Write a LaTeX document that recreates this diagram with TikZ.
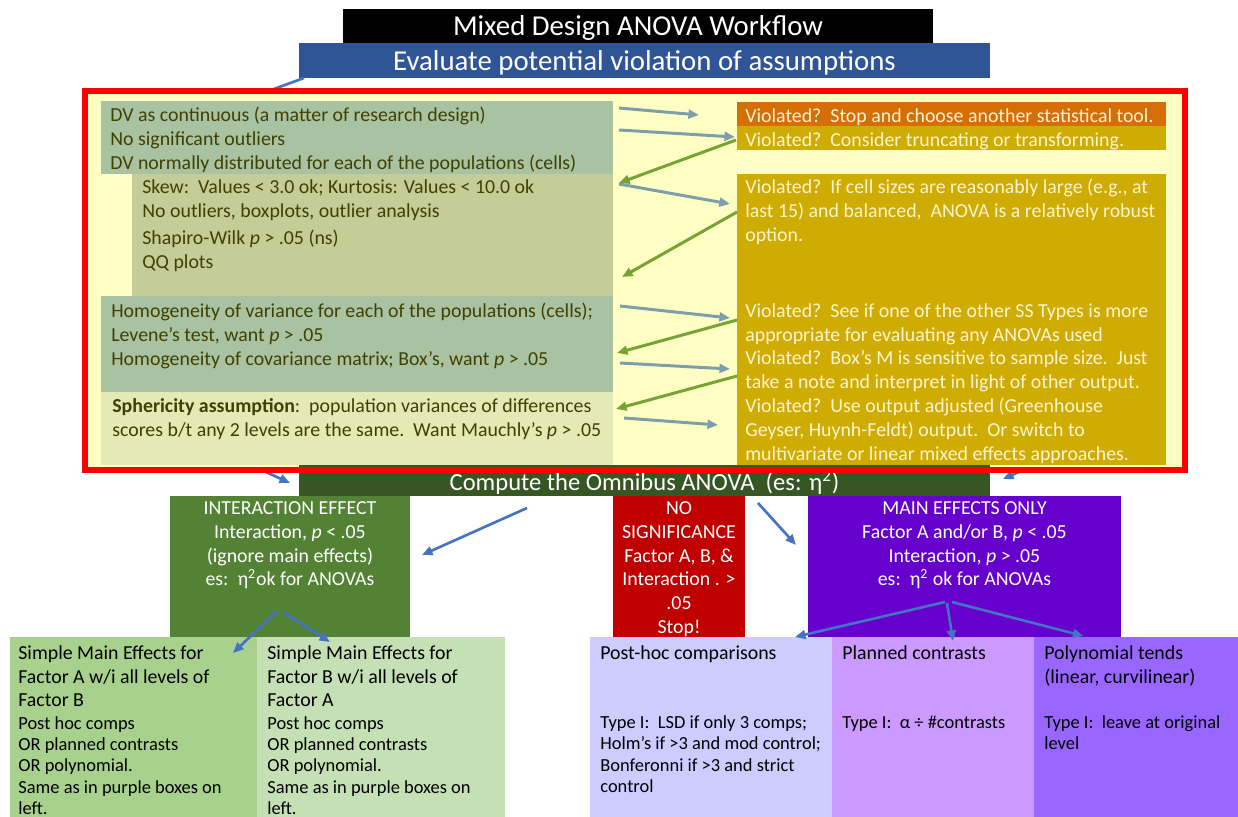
\documentclass[tikz,border=0pt]{standalone}
\usepackage{fontspec}
\setmainfont{Carlito}
\usetikzlibrary{arrows.meta,positioning}
\usepackage{xcolor}
\definecolor{sagebox}{RGB}{169,195,162}
\definecolor{olivebox}{RGB}{196,204,152}
\definecolor{palebox}{RGB}{228,233,182}
\definecolor{frameyellow}{RGB}{255,255,196}
\definecolor{oliveink}{RGB}{64,64,0}
\definecolor{creamink}{RGB}{255,244,206}
\definecolor{violorange}{RGB}{214,110,6}
\definecolor{violmustard}{RGB}{206,172,2}
\definecolor{evalblue}{RGB}{47,85,151}
\definecolor{omnigreen}{RGB}{56,86,35}
\definecolor{intgreen}{RGB}{84,130,53}
\definecolor{stopred}{RGB}{192,0,0}
\definecolor{mainpurple}{RGB}{102,0,204}
\definecolor{smegreen}{RGB}{169,209,142}
\definecolor{smelight}{RGB}{197,224,180}
\definecolor{posthoc}{RGB}{204,204,255}
\definecolor{planned}{RGB}{204,153,255}
\definecolor{polyn}{RGB}{153,102,255}
\definecolor{steel}{RGB}{125,158,170}
\definecolor{leafgreen}{RGB}{118,164,52}
\definecolor{arrowblue}{RGB}{68,114,196}
\newlength{\pxu}\setlength{\pxu}{0.02cm}
\newcommand{\bodyfont}{\fontsize{11.3}{13.6}\selectfont}
\newcommand{\lowfont}{\fontsize{10.5}{12}\selectfont}
\newcommand{\hd}{\fontsize{11.3}{12}\selectfont}
\tikzset{
  cell/.style={rectangle, inner sep=0pt, outer sep=0pt, anchor=north west},
  head/.style={rectangle, inner sep=0pt, outer sep=0pt, text=white, text depth=0pt},
  txt/.style={anchor=north west, inner sep=0pt, align=left, font=\bodyfont, execute at begin node=\strut},
  ctxt/.style={anchor=north, inner sep=0pt, align=center, font=\bodyfont, text=white, execute at begin node=\strut},
  lowtxt/.style={txt, font=\lowfont},
  steelarrow/.style={-{Triangle[length=6pt,width=5pt]}, line width=1.7pt, steel},
  greenarrow/.style={-{Triangle[length=6pt,width=5pt]}, line width=1.7pt, leafgreen},
  bluearrow/.style={-{Triangle[length=6pt,width=5pt]}, line width=1.5pt, arrowblue},
}

\begin{document}
\begin{tikzpicture}[x=0.02cm, y=-0.02cm]
\fill[white] (0,0) rectangle (1238,817);
\useasboundingbox (0,0) rectangle (1238,817);

% headings
\node[head, fill=black, minimum width=590*\pxu, minimum height=34*\pxu, font=\fontsize{16.4}{19}\selectfont] (title) at (638,26) {Mixed Design ANOVA Workflow};
\node[head, fill=evalblue, minimum width=691*\pxu, minimum height=35*\pxu, font=\fontsize{16.4}{19}\selectfont] (eval) at (644.5,60.5) {Evaluate potential violation of assumptions};

\node[cell, fill=frameyellow, minimum width=1100*\pxu, minimum height=379*\pxu] (frame) at (85,91) {};
\draw[bluearrow] ([shift={(5,0)}]eval.south west) -- ([shift={(167,6)}]frame.north west);
\fill[frameyellow] (frame.north west) rectangle (frame.south east);

% assumptions (left)
\node[cell, fill=sagebox, minimum width=512*\pxu, minimum height=73*\pxu] (L1) at (101,101) {};
\node[cell, fill=olivebox, minimum width=481*\pxu, minimum height=122*\pxu] (L2) at (132,174) {};
\node[cell, fill=sagebox, minimum width=512*\pxu, minimum height=96*\pxu] (L3) at (101,296) {};
\node[cell, fill=palebox, minimum width=512*\pxu, minimum height=73*\pxu] (L4) at (101,392) {};

\node[txt, text=oliveink] (L1t) at ([shift={(9,6)}]L1.north west) {DV as continuous (a matter of research design)\\No significant outliers\\DV normally distributed for each of the populations (cells)};
\node[txt, text=oliveink] (L2t) at ([shift={(10,5)}]L2.north west) {Skew:\ \ Values < 3.0 ok; Kurtosis: Values < 10.0 ok\\No outliers, boxplots, outlier analysis\\[2.3pt]Shapiro-Wilk \textit{p} > .05 (ns)\\QQ plots};
\node[txt, text=oliveink] (L3t) at ([shift={(10,7)}]L3.north west) {Homogeneity of variance for each of the populations (cells);\\Levene’s test, want \textit{p} > .05\\Homogeneity of covariance matrix; Box’s, want \textit{p} > .05};
\node[txt, text=oliveink] (L4t) at ([shift={(11,6)}]L4.north west) {\textbf{Sphericity assumption}:\ \ population variances of differences\\scores b/t any 2 levels are the same.\ \ Want Mauchly’s \textit{p} > .05};

% violations (right)
\node[cell, fill=violorange, minimum width=429*\pxu, minimum height=24*\pxu] (R1) at (737,102) {};
\node[cell, fill=violmustard, minimum width=429*\pxu, minimum height=24*\pxu] (R2) at (737,126) {};
\node[cell, fill=violmustard, minimum width=429*\pxu, minimum height=122*\pxu] (R3) at (737,174) {};
\node[cell, fill=violmustard, minimum width=429*\pxu, minimum height=169*\pxu] (R4) at (737,296) {};

\node[txt, text=creamink] (R1t) at ([shift={(8,3)}]R1.north west) {Violated?\ \ Stop and choose another statistical tool.};
\node[txt, text=creamink] (R2t) at ([shift={(8,3)}]R2.north west) {Violated?\ \ Consider truncating or transforming.};
\node[txt, text=creamink] (R3t) at ([shift={(8,5)}]R3.north west) {Violated?\ \ If cell sizes are reasonably large (e.g., at\\last 15) and balanced,\ \ ANOVA is a relatively robust\\option.};
\node[txt, text=creamink] (R4t) at ([shift={(8,7)}]R4.north west) {Violated?\ \ See if one of the other SS Types is more\\appropriate for evaluating any ANOVAs used\\Violated?\ \ Box’s M is sensitive to sample size.\ \ Just\\take a note and interpret in light of other output.\\Violated?\ \ Use output adjusted (Greenhouse\\Geyser, Huynh-Feldt) output.\ \ Or switch to\\multivariate or linear mixed effects approaches.};

\draw[steelarrow] ([shift={(6,7)}]L1.north east) -- ([shift={(-38,13)}]R1.north west);
\draw[steelarrow] ([shift={(6,29)}]L1.north east) -- ([shift={(-2,11)}]R2.north west);
\draw[greenarrow] ([shift={(-1,14)}]R2.north west) -- ([shift={(6,9)}]L2.north east);
\draw[steelarrow] ([shift={(6,10)}]L2.north east) -- ([shift={(-7,30)}]R3.north west);
\draw[greenarrow] ([shift={(0,38)}]R3.north west) -- ([shift={(9,103)}]L2.north east);
\draw[steelarrow] ([shift={(7,10)}]L3.north east) -- ([shift={(-7,22)}]R4.north west);
\draw[greenarrow] ([shift={(0,24)}]R4.north west) -- ([shift={(4,57)}]L3.north east);
\draw[steelarrow] ([shift={(7,67)}]L3.north east) -- ([shift={(-7,73)}]R4.north west);
\draw[greenarrow] ([shift={(0,80)}]R4.north west) -- ([shift={(3,17)}]L4.north east);
\draw[steelarrow] ([shift={(11,26)}]L4.north east) -- ([shift={(-19,129)}]R4.north west);

% omnibus and outcomes
\node[head, fill=omnigreen, minimum width=691*\pxu, minimum height=31*\pxu, font=\fontsize{14}{17}\selectfont] (omni) at (644.5,480.5) {Compute the Omnibus ANOVA\ \ (es: η\textsuperscript{2})};

\node[cell, fill=intgreen, minimum width=240*\pxu, minimum height=141*\pxu] (inter) at (170,496) {};
\node[cell, fill=stopred, minimum width=132*\pxu, minimum height=141*\pxu] (nosig) at (613,496) {};
\node[cell, fill=mainpurple, minimum width=313*\pxu, minimum height=141*\pxu] (main) at (808,496) {};

\node[ctxt] (intert) at ([shift={(0,5)}]inter.north) {INTERACTION EFFECT\\Interaction, \textit{p} < .05\\(ignore main effects)\\es:\ \ η\textsuperscript{2}ok for ANOVAs};
\node[ctxt] (nosigt) at ([shift={(0,5)}]nosig.north) {NO\\SIGNIFICANCE\\Factor A, B, \&\\Interaction . >\\.05\\Stop!};
\node[ctxt] (maint) at ([shift={(0,5)}]main.north) {MAIN EFFECTS ONLY\\Factor A and/or B, \textit{p} < .05\\Interaction, \textit{p} > .05\\es:\ \ η\textsuperscript{2} ok for ANOVAs};

% follow-up tests
\node[cell, fill=smegreen, minimum width=247*\pxu, minimum height=180*\pxu] (smeA) at (10,637) {};
\node[cell, fill=smelight, minimum width=248*\pxu, minimum height=180*\pxu] (smeB) at (257,637) {};
\node[cell, fill=posthoc, minimum width=242*\pxu, minimum height=180*\pxu] (post) at (590,637) {};
\node[cell, fill=planned, minimum width=202*\pxu, minimum height=180*\pxu] (plan) at (832,637) {};
\node[cell, fill=polyn, minimum width=204*\pxu, minimum height=180*\pxu] (poly) at (1034,637) {};

\node[lowtxt] (smeAt) at ([shift={(8,8)}]smeA.north west) {\hd Simple Main Effects for\\[1.6pt]\hd Factor A w/i all levels of\\[1.6pt]\hd Factor B\\[1pt]\lowfont Post hoc comps\\\lowfont OR planned contrasts\\\lowfont OR polynomial.\\\lowfont Same as in purple boxes on\\\lowfont left.};
\node[lowtxt] (smeBt) at ([shift={(10,8)}]smeB.north west) {\hd Simple Main Effects for\\[1.6pt]\hd Factor B w/i all levels of\\[1.6pt]\hd Factor A\\[1pt]\lowfont Post hoc comps\\\lowfont OR planned contrasts\\\lowfont OR polynomial.\\\lowfont Same as in purple boxes on\\\lowfont left.};
\node[lowtxt] (postt) at ([shift={(10,8)}]post.north west) {\hd Post-hoc comparisons\\[27.7pt]\lowfont Type I:\ \ LSD if only 3 comps;\\\lowfont Holm’s if >3 and mod control;\\\lowfont Bonferonni if >3 and strict\\\lowfont control};
\node[lowtxt] (plant) at ([shift={(10,8)}]plan.north west) {\hd Planned contrasts\\[27.7pt]\lowfont Type I:\ \ α ÷ \#contrasts};
\node[lowtxt] (polyt) at ([shift={(10,8)}]poly.north west) {\hd Polynomial tends\\[1.6pt]\hd (linear, curvilinear)\\[14.1pt]\lowfont Type I:\ \ leave at original\\\lowfont level};

\draw[bluearrow] ([shift={(172,-2)}]frame.south west) -- ([shift={(-9,2.5)}]omni.west);
\draw[bluearrow] ([shift={(-157,-2)}]frame.south east) -- ([shift={(13,-1.5)}]omni.east);
\draw[bluearrow] ([shift={(-117.5,12)}]omni.south) -- ([shift={(12,-11.5)}]inter.east);
\draw[bluearrow] ([shift={(113.5,7)}]omni.south) -- ([shift={(-12,-21.5)}]main.west);
\draw[bluearrow] ([shift={(-13,-26)}]inter.south) -- ([shift={(-24,16)}]smeA.north east);
\draw[bluearrow] ([shift={(-7,-25)}]inter.south) -- ([shift={(73,5)}]smeB.north west);
\draw[bluearrow] ([shift={(-19.5,-35)}]main.south) -- ([shift={(-37,0)}]post.north east);
\draw[bluearrow] ([shift={(-17.5,-34)}]main.south) -- ([shift={(20,4)}]plan.north);
\draw[bluearrow] ([shift={(-12.5,-35)}]main.south) -- ([shift={(-52.5,-1)}]poly.north);

\draw[red, line width=6*\pxu] (frame.north west) rectangle (frame.south east);

\end{tikzpicture}
\end{document}
